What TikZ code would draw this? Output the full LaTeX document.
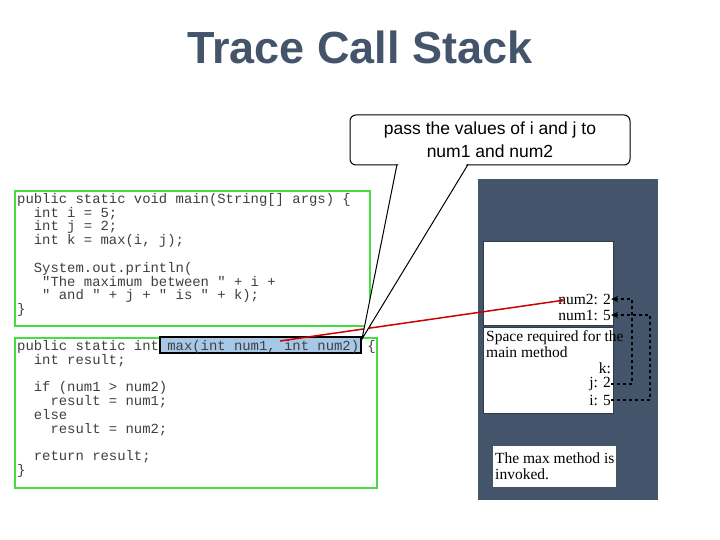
\documentclass[tikz,border=0pt]{standalone}
\usepackage{fontspec}
\setmainfont{Liberation Serif}
\setsansfont{Liberation Sans}
\setmonofont{Liberation Mono}
\usetikzlibrary{arrows.meta, positioning, calc}
\definecolor{slate}{HTML}{44546A}
\definecolor{codegreen}{HTML}{44DD44}
\definecolor{hilite}{HTML}{A8C8E8}
\tikzset{
x=1pt, y=-1pt,
>={Stealth[length=7pt, width=6pt]},
codebox/.style={draw=codegreen, line width=1.2pt, fill=white},
code/.style={font=\ttfamily\fontsize{13.9}{13.8}\selectfont, text=black!75, align=left, anchor=north west, inner sep=0pt},
frame/.style={fill=white, draw=slate!70!black, line width=0.8pt},
stacktext/.style={font=\fontsize{15.5}{16}\selectfont, inner sep=0pt},
}
\begin{document}
\begin{tikzpicture}
\useasboundingbox (0,0) rectangle (720,540);
% title
\node[font=\sffamily\bfseries\fontsize{45}{50}\selectfont, text=slate] (title) at (360,47) {Trace Call Stack};
% code
\draw[codebox] (15,191) rectangle (370,326);
\draw[codebox] (15,338) rectangle (377,488);
\node[code] (mainc) at (17,193) {public static void main(String[] args) \{\\
\ \ int i = 5;\\
\ \ int j = 2;\\
\ \ int k = max(i, j);\\
\\
\ \ System.out.println(\\
\ \ \ "The maximum between " + i +\\
\ \ \ " and " + j + " is " + k);\\
\}};
\draw[fill=hilite, line width=1.2pt] (160,337) rectangle (361,353);
\node[code] (maxc) at (17,340) {public static int max(int num1, int num2) \{\\
\ \ int result;\\
\\
\ \ if (num1 > num2)\\
\ \ \ \ result = num1;\\
\ \ else\\
\ \ \ \ result = num2;\\
\\
\ \ return result;\\
\}};
% stack
\fill[slate] (478,179) rectangle (658,500);
\draw[frame] (483,241) rectangle (613,325);
\draw[frame] (483,327) rectangle (613,413);
\node[stacktext, anchor=east] (n2) at (611,299) {num2: 2};
\node[stacktext, anchor=east] (n1) at (611,315) {num1: 5};
\node[stacktext, anchor=north west, align=left] (space) at (486,330) {Space required for the\\main method};
\node[stacktext, anchor=east] (k) at (611,368) {k:};
\node[stacktext, anchor=east] (j) at (611,384) {j: 2};
\node[stacktext, anchor=east] (i) at (611,400) {i: 5};
\node[stacktext, fill=white, align=left, inner sep=2pt, minimum width=111pt, minimum height=41pt, anchor=north west] (info) at (493,446) {The max method is\\invoked.};
% dashed links
\coordinate (jr) at (632,0);
\coordinate (ir) at (650,0);
\draw[dashed, line width=1.2pt, ->] (j.east) -- (j.east -| jr) -- (n2.east -| jr) -- (n2.east);
\draw[dashed, line width=1.2pt, ->] (i.east) -- (i.east -| ir) -- (n1.east -| ir) -- (n1.east);
% red pointer
\coordinate (redstart) at (280,341);
\draw[red!80!black, line width=1.5pt, -{Stealth[length=5pt]}] (redstart) -- (565,300);
% callout
\coordinate (tip) at (362,339);
\node[draw, fill=white, rounded corners=6pt, line width=1pt, minimum width=280pt, minimum height=50pt, font=\sffamily\fontsize{17.5}{23}\selectfont, align=center] (callout) at (490,140) {pass the values of i and j to\\num1 and num2};
\fill[white] (398.5,164) -- (362,338) -- (466.5,164) -- cycle;
\draw[line width=1pt] (397,164.5) -- (tip) -- (468,164.5);
\end{tikzpicture}
\end{document}
